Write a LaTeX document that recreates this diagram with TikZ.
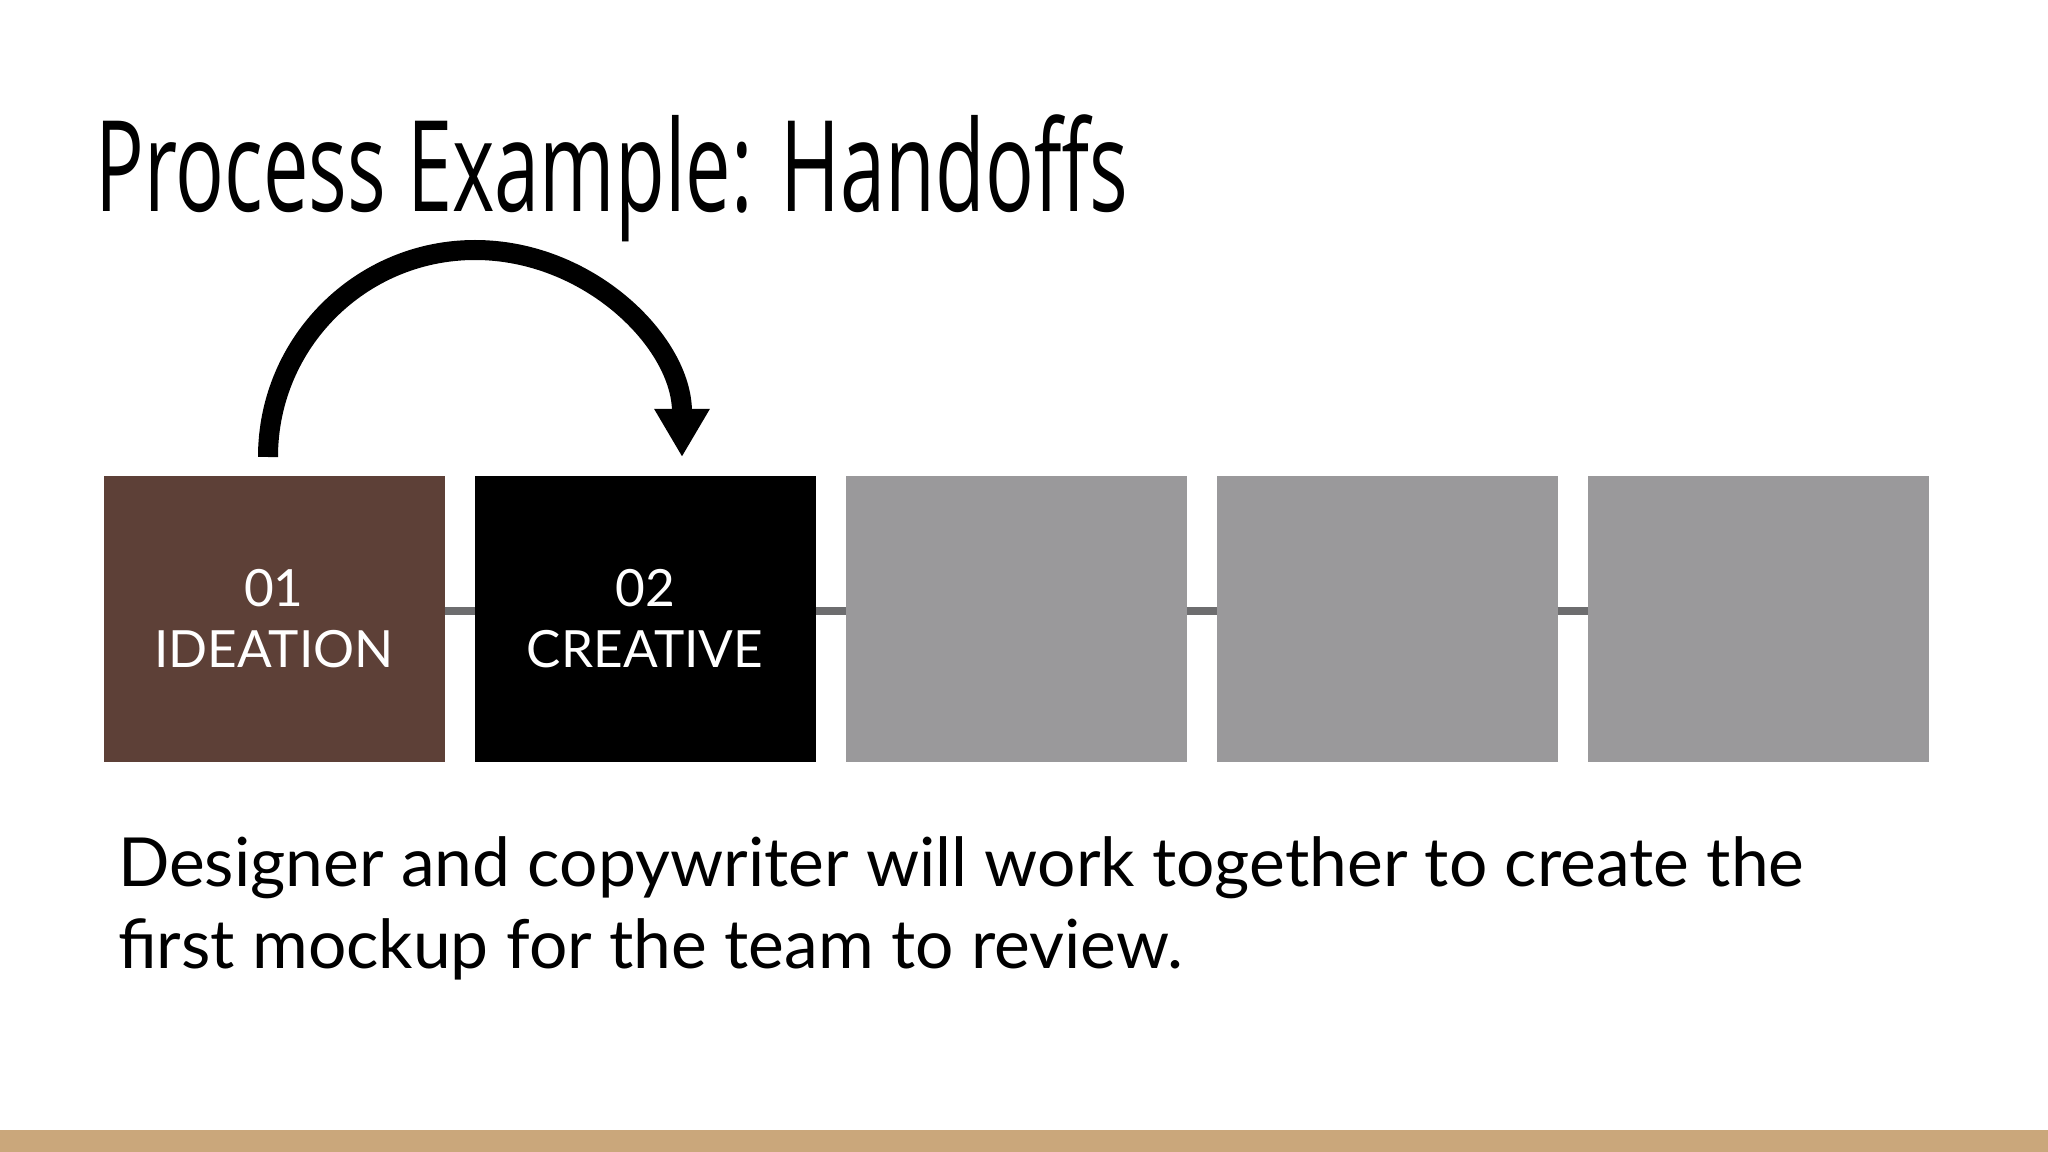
\documentclass[tikz,border=0pt]{standalone}
\usepackage{fontspec}
\setmainfont{Lato}
\newfontfamily\titlefont{Open Sans}
\usetikzlibrary{arrows.meta, positioning, calc}

\definecolor{stagebrown}{HTML}{5D4037}
\definecolor{stagegray}{HTML}{9A999B}
\definecolor{linkgray}{HTML}{6D6D6F}
\definecolor{bartan}{HTML}{CAA77B}

\begin{document}
\begin{tikzpicture}[node distance=0.3cm, semithick]
    \tikzstyle{stage}=[rectangle, minimum width=3.41cm, minimum height=2.86cm, inner sep=0pt, outer sep=0pt, text=white, align=center, font=\fontsize{14.6}{17.4}\selectfont]
    \tikzstyle{link}=[draw=linkgray, line width=0.08cm]

    % --- FRAME ---
    \useasboundingbox (0,0) rectangle (20.48,-11.52);
    \fill[white] (0,0) rectangle (20.48,-11.52);
    \fill[bartan] (0,-11.30) rectangle (20.48,-11.52);

    % --- TITLE ---
    \node[anchor=base west, inner sep=0pt] (title) at (0.945,-2.12)
        {\titlefont\fontsize{36}{40}\selectfont\scalebox{0.641}[1]{Process Example: Handoffs}};

    % --- STAGES (left to right) ---
    \node[stage, fill=stagebrown] (ideation) at (2.74,-6.19) {01\\IDEATION};
    \node[stage, fill=black, right=of ideation] (creative) {02\\CREATIVE};
    \node[stage, fill=stagegray, right=of creative] (third) {};
    \node[stage, fill=stagegray, right=of third] (fourth) {};
    \node[stage, fill=stagegray, right=of fourth] (fifth) {};

    % --- LINKS ---
    \foreach \a/\b in {ideation/creative, creative/third, third/fourth, fourth/fifth}
        \draw[link] ([yshift=0.08cm]\a.east) -- ([yshift=0.08cm]\b.west);

    % --- HANDOFF ARROW ---
    \coordinate (handoff) at ($(ideation.north)+(-0.06,0.19)$);
    \draw[line width=0.2cm, -{Triangle[length=0.48cm, width=0.52cm]}]
        (handoff) arc[start angle=180, end angle=0, radius=2.07];

    % --- CAPTION ---
    \node[anchor=base west, inner sep=0pt, align=left, font=\fontsize{19.27}{23.3}\selectfont] (caption) at (1.17,-9.68)
        {Designer and copywriter will work together to create the\\first mockup for the team to review.};

\end{tikzpicture}
\end{document}
